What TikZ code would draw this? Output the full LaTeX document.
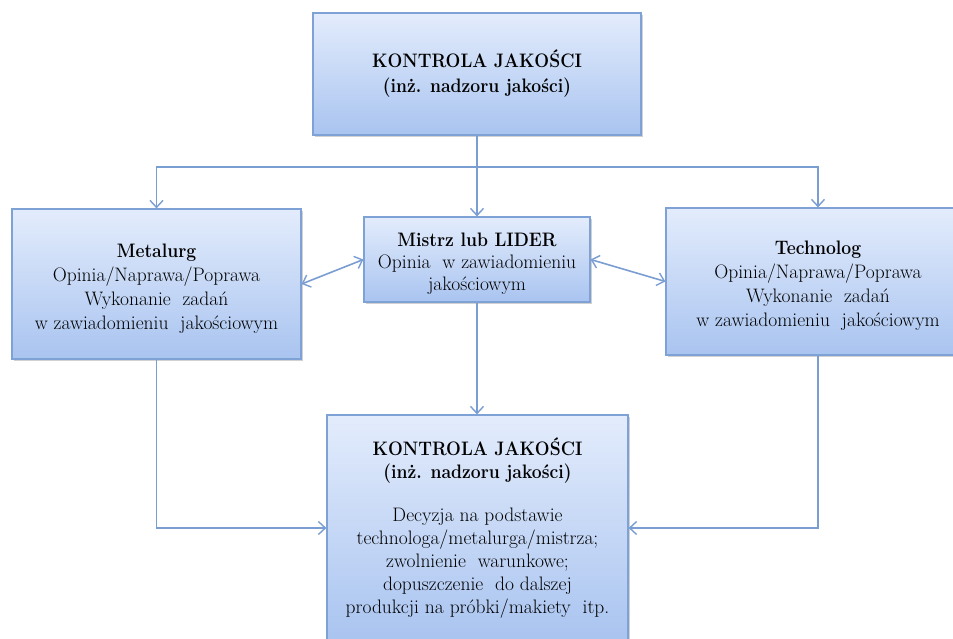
\documentclass[tikz,border=0pt]{standalone}
\usetikzlibrary{arrows.meta,shadows}
\definecolor{boxtop}{HTML}{E3ECFC}
\definecolor{boxbot}{HTML}{A9C4F0}
\definecolor{boxline}{HTML}{7FA2D6}
\definecolor{wire}{HTML}{7B9ED2}
% bold headings, slightly narrowed
\newcommand\hd[1]{\scalebox{0.9}[1]{\bfseries #1}}
% taller first line pushes a block of text a little down
\newcommand\lowtop{\rule{0pt}{22pt}}
\tikzset{
  unit/.style={draw=boxline, line width=1.2pt, top color=boxtop, bottom color=boxbot,
    align=center, inner sep=0pt, text=black,
    font=\fontsize{19.5}{24}\selectfont,
    drop shadow={shadow xshift=2pt, shadow yshift=-2pt, fill=black!40, opacity=0.45}},
  link/.style={draw=wire, line width=1.6pt,
    arrows={-Straight Barb[length=7pt, width=13pt, line width=1.4pt]}},
  duplex/.style={link, arrows={Straight Barb[length=7pt, width=13pt, line width=1.4pt]-Straight Barb[length=7pt, width=13pt, line width=1.4pt]}}
}
\begin{document}
\begin{tikzpicture}[x=1pt, y=-1pt]
\useasboundingbox[fill=white] (0,0) rectangle (953,639);

\node[unit, minimum width=328pt, minimum height=122pt] (qc) at (477,74)
  {\hd{KONTROLA JAKOŚCI}\\[1pt]\hd{(inż. nadzoru jakości)}};

\node[unit, minimum width=289pt, minimum height=150pt] (metal) at (156.5,284)
  {\lowtop\hd{Metalurg}\\Opinia/Naprawa/Poprawa\\Wykonanie\ \ zadań\\w zawiadomieniu\ \ jakościowym};

\node[unit, minimum width=226pt, minimum height=85pt, font=\fontsize{19.5}{22}\selectfont] (master) at (477,259.5)
  {\lowtop\hd{Mistrz lub LIDER}\\Opinia\ \ w zawiadomieniu\\jakościowym};

\node[unit, minimum width=304pt, minimum height=147pt] (tech) at (818,281.5)
  {\lowtop\hd{Technolog}\\Opinia/Naprawa/Poprawa\\Wykonanie\ \ zadań\\w zawiadomieniu\ \ jakościowym};

\node[unit, minimum width=301pt, minimum height=226pt, font=\fontsize{19.5}{23}\selectfont] (decision) at (477.5,528)
  {\hd{KONTROLA JAKOŚCI}\\\hd{(inż. nadzoru jakości)}\\[20pt]
   Decyzja na podstawie\\technologa/metalurga/mistrza;\\zwolnienie\ \ warunkowe;\\
   dopuszczenie\ \ do dalszej\\produkcji na próbki/makiety\ \ itp.};

% distribution from quality control
\coordinate (split) at (qc.south |- 0,167);
\draw[link] (qc.south) -- (master.north);
\draw[link] (split) -| (metal.north);
\draw[link] (split) -| (tech.north);

% exchanges with the foreman
\draw[duplex] (metal.east) -- (master.west);
\draw[duplex] (master.east) -- (tech.west);

% feeds into the final decision
\draw[link] (master.south) -- (master.south |- decision.north);
\draw[link] (metal.south) |- (decision.west);
\draw[link] (tech.south) |- (decision.east);
\end{tikzpicture}
\end{document}
